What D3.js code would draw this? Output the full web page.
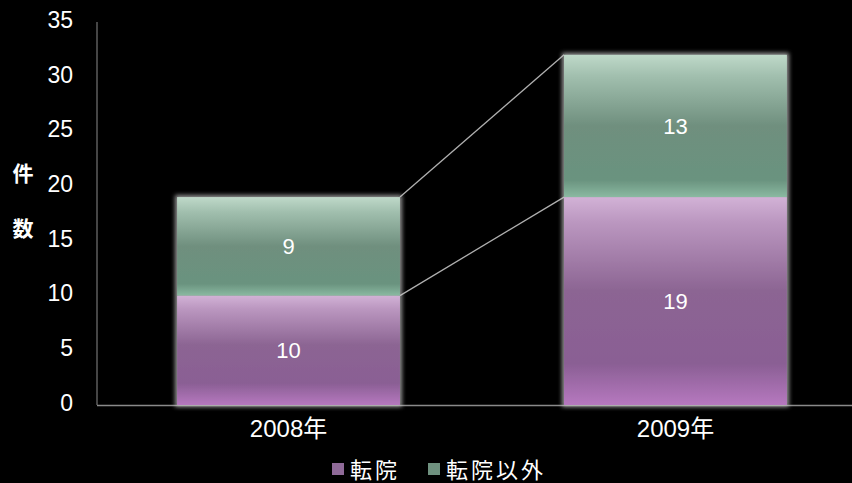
<!DOCTYPE html>
<html>
<head>
<meta charset="utf-8">
<script src="https://cdn.jsdelivr.net/npm/d3@7"></script>
<style>
  html, body { margin: 0; padding: 0; background: #000; }
  svg { display: block; }
</style>
</head>
<body>
<svg id="chart" width="852" height="483"></svg>
<script>
// Chart data
const years = ["2008年", "2009年"];
const seriesNames = ["転院", "転院以外"];
const transferred = [10, 19];
const notTransferred = [9, 13];
const yTicks = [0, 5, 10, 15, 20, 25, 30, 35];

const W = 852, H = 483;
const svg = d3.select("#chart");
const font = "'Liberation Sans', Arial, 'Noto Sans CJK JP', sans-serif";
const cjk = "'Noto Sans CJK JP', sans-serif";

svg.append("rect").attr("width", W).attr("height", H).attr("fill", "#000");

const x = d3.scaleBand().domain(years).range([97, 867]).paddingInner(0.424).paddingOuter(0.207);
const y = d3.scaleLinear().domain([0, 35]).range([405, 22]);

const rows = years.map((yr, i) => ({ year: yr, "転院": transferred[i], "転院以外": notTransferred[i] }));
const stacked = d3.stack().keys(seriesNames)(rows);

const defs = svg.append("defs");
function grad(id, stops) {
  const g = defs.append("linearGradient").attr("id", id).attr("x1", 0).attr("y1", 0).attr("x2", 0).attr("y2", 1);
  stops.forEach(([o, c]) => g.append("stop").attr("offset", o).attr("stop-color", c));
}
grad("gPurple", [[0, "#d2b2d6"], [0.12, "#bb97c0"], [0.45, "#8c6593"], [0.8, "#8a5f94"], [1, "#b678bf"]]);
grad("gGreen", [[0, "#bfd9c9"], [0.15, "#a1bfae"], [0.5, "#6f8f7e"], [0.88, "#6a937f"], [1, "#8ab9a1"]]);

const glow = defs.append("filter").attr("id", "glow").attr("x", "-10%").attr("y", "-10%").attr("width", "120%").attr("height", "120%");
glow.append("feMorphology").attr("in", "SourceAlpha").attr("operator", "dilate").attr("radius", 2).attr("result", "d");
glow.append("feGaussianBlur").attr("in", "d").attr("stdDeviation", 2).attr("result", "b");
glow.append("feFlood").attr("flood-color", "#c8c8c8").attr("flood-opacity", 0.75);
glow.append("feComposite").attr("in2", "b").attr("operator", "in").attr("result", "g");
const mg = glow.append("feMerge");
mg.append("feMergeNode").attr("in", "g");
mg.append("feMergeNode").attr("in", "SourceGraphic");

const fills = { "転院": "url(#gPurple)", "転院以外": "url(#gGreen)" };
const swatch = { "転院": "#8f6a98", "転院以外": "#6f917f" };

// Axes lines
svg.append("line").attr("x1", 97).attr("x2", 97).attr("y1", y(35)).attr("y2", y(0))
  .attr("stroke", "#8a8a8a").attr("stroke-width", 1);
svg.append("line").attr("x1", 97).attr("x2", W).attr("y1", y(0) + 0.5).attr("y2", y(0) + 0.5)
  .attr("stroke", "#8a8a8a").attr("stroke-width", 1.5);

// Y tick labels
const yAxis = d3.axisLeft(y).tickValues(yTicks).tickSize(0).tickPadding(0);
const ya = svg.append("g").attr("transform", "translate(73,-2)").call(yAxis);
ya.select(".domain").remove();
ya.selectAll("text").attr("fill", "#fff").attr("font-family", font).attr("font-size", 23);

// Y axis title (vertical, stacked characters)
svg.append("text").attr("x", 23).attr("y", 181).attr("text-anchor", "middle")
  .attr("fill", "#fff").attr("font-family", cjk).attr("font-weight", "bold")
  .attr("font-size", 21).text("件");
svg.append("text").attr("x", 23).attr("y", 236).attr("text-anchor", "middle")
  .attr("fill", "#fff").attr("font-family", cjk).attr("font-weight", "bold")
  .attr("font-size", 21).text("数");

// Series connector lines
stacked.forEach(s => {
  svg.append("line")
    .attr("x1", x(years[0]) + x.bandwidth()).attr("y1", y(s[0][1]))
    .attr("x2", x(years[1])).attr("y2", y(s[1][1]))
    .attr("stroke", "#b0b0b0").attr("stroke-width", 1.3);
});

// Stacked bars
const barG = svg.append("g").attr("filter", "url(#glow)");
stacked.forEach(s => {
  s.forEach((d, i) => {
    barG.append("rect")
      .attr("x", x(years[i])).attr("width", x.bandwidth())
      .attr("y", y(d[1])).attr("height", y(d[0]) - y(d[1]))
      .attr("fill", fills[s.key]);
  });
});

// Value labels
stacked.forEach(s => {
  s.forEach((d, i) => {
    svg.append("text")
      .attr("x", x(years[i]) + x.bandwidth() / 2)
      .attr("y", (y(d[0]) + y(d[1])) / 2 + 8)
      .attr("text-anchor", "middle").attr("fill", "#fff")
      .attr("font-family", font).attr("font-size", 22)
      .text(d[1] - d[0]);
  });
});

// X tick labels
const xAxis = d3.axisBottom(x).tickSize(0).tickPadding(0);
const xa = svg.append("g").attr("transform", "translate(0,420)").call(xAxis);
xa.select(".domain").remove();
xa.selectAll("text").attr("fill", "#fff").attr("font-family", font).attr("font-size", 24);

// Legend
const legend = svg.append("g");
const legendX = [332, 428];
seriesNames.forEach((name, i) => {
  legend.append("rect").attr("x", legendX[i]).attr("y", 463).attr("width", 12).attr("height", 12)
    .attr("fill", swatch[name]);
  legend.append("text").attr("x", legendX[i] + 18).attr("y", 478)
    .attr("fill", "#fff").attr("font-family", cjk).attr("font-size", 22)
    .attr("letter-spacing", 3)
    .text(name);
});
</script>
</body>
</html>
